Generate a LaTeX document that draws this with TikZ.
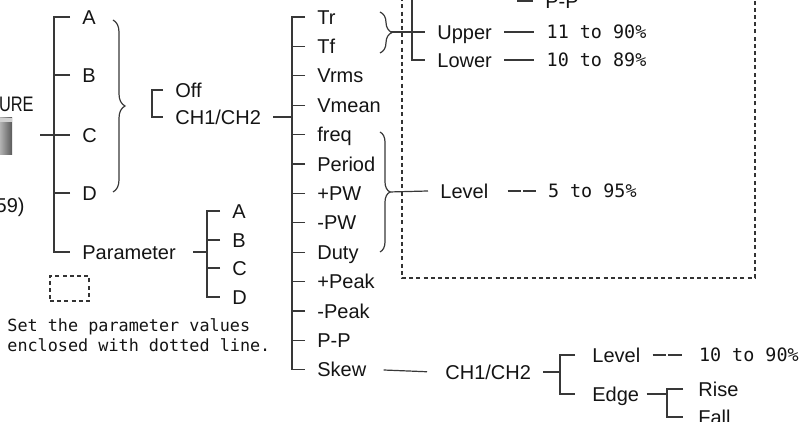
\documentclass[tikz,border=0pt]{standalone}
\usepackage{fontspec}
\usepackage{graphicx}
\setmainfont{Liberation Sans}
\setmonofont{DejaVu Sans Mono}
\usetikzlibrary{positioning, decorations.pathreplacing}

\begin{document}
\begin{tikzpicture}[x=0.5pt, y=-0.5pt,
  item/.style={anchor=west, inner xsep=6pt, inner ysep=1pt, text height=7.2pt, text depth=0pt, font=\fontsize{10}{12}\selectfont, text=black!92},
  val/.style={anchor=west, inner xsep=6pt, inner ysep=1pt, text height=6.8pt, text depth=0pt, font=\ttfamily\fontsize{9.2}{11}\selectfont, text=black!92},
  note/.style={anchor=west, align=left, inner sep=0pt, font=\ttfamily\fontsize{8.4}{10}\selectfont, text=black!92},
  wire/.style={draw=black!78, line width=0.6pt},
  gapline/.style={wire, dash pattern=on 6.8pt off 1pt},
  frame/.style={draw=black!80, line width=0.6pt, dash pattern=on 2pt off 1.6pt},
  brc/.style={draw=black!78, line width=0.6pt, decorate, decoration={brace, amplitude=#1}},
  node distance=15pt]
  \useasboundingbox (0,0) rectangle (805,422);
  \clip (0,0) rectangle (805,422);

  % key picture and title on the left
  \shade[left color=black!30, right color=black!65] (0,118) rectangle (12,155);
  \fill[black!18] (0,118) rectangle (12,122);
  \node[item, anchor=east, inner xsep=0pt, font=\fontsize{10.5}{13}\selectfont] (title) at (34,104) {\scalebox{0.78}[1]{URE}};
  \node[item, anchor=east, inner xsep=0pt] (page) at (25,205) {59)};

  % first column
  \node[item] (a) at (70,17) {A};
  \node[item] (b) at (70,75) {B};
  \node[item] (c) at (70,135) {C};
  \node[item] (d) at (70,193) {D};
  \node[item] (param) at (70,252) {Parameter};
  \coordinate (keyout) at (40,0);
  \coordinate (abus) at (54,0);
  \draw[wire] (a.west) -- (abus |- a.west) -- (abus |- param.west) -- (param.west);
  \draw[wire] (b.west) -- (abus |- b.west);
  \draw[wire] (keyout |- c.west) -- (c.west);
  \draw[wire] (d.west) -- (abus |- d.west);
  \coordinate (br1t) at (113,20);
  \coordinate (br1b) at (113,192);
  \draw[brc=6pt] (br1t) -- (br1b);

  % parameter sub list
  \node[item] (pa) at (220,211) {A};
  \node[item] (pb) at (220,240) {B};
  \node[item] (pc) at (220,268) {C};
  \node[item] (pd) at (220,297) {D};
  \coordinate (pbus) at (207,0);
  \draw[wire, shorten <=2.5pt] (param.east) -- (pbus |- param.east);
  \draw[wire] (pa.west) -- (pbus |- pa.west) -- (pbus |- pd.west) -- (pd.west);
  \draw[wire] (pb.west) -- (pbus |- pb.west);
  \draw[wire] (pc.west) -- (pbus |- pc.west);
  \node[frame, minimum width=19.5pt, minimum height=12.5pt, inner sep=0pt] (legend) at (69.5,288.5) {};
  \node[note] (hint) at (7,335) {Set the parameter values\\enclosed with dotted line.};

  % Off / CH1/CH2
  \node[item] (off) at (163,90) {Off};
  \node[item] (chsel) at (163,117) {CH1/CH2};
  \coordinate (obus) at (152,0);
  \draw[wire] (off.west) -- (obus |- off.west) -- (obus |- chsel.west) -- (chsel.west);

  % measurement items
  \node[item] (tr) at (305,17) {Tr};
  \node[item] (tf) at (305,46.4) {Tf};
  \node[item] (vrms) at (305,75.8) {Vrms};
  \node[item] (vmean) at (305,105.2) {Vmean};
  \node[item] (freq) at (305,134.6) {freq};
  \node[item] (period) at (305,164) {Period};
  \node[item] (ppw) at (305,193.4) {+PW};
  \node[item] (mpw) at (305,222.8) {-PW};
  \node[item] (duty) at (305,252.2) {Duty};
  \node[item] (ppeak) at (305,281.6) {+Peak};
  \node[item] (mpeak) at (305,311) {-Peak};
  \node[item] (pp) at (305,340.4) {P-P};
  \node[item] (skew) at (305,369.8) {Skew};
  \coordinate (mbus) at (292,0);
  \draw[wire] (chsel.east) -- (mbus |- chsel.east);
  \draw[wire] (tr.west) -- (mbus |- tr.west) -- (mbus |- skew.west) -- (skew.west);
  \draw[wire] (tf.west) -- (mbus |- tf.west);
  \draw[wire] (vrms.west) -- (mbus |- vrms.west);
  \draw[wire] (vmean.west) -- (mbus |- vmean.west);
  \draw[wire] (freq.west) -- (mbus |- freq.west);
  \draw[wire] (period.west) -- (mbus |- period.west);
  \draw[wire] (ppw.west) -- (mbus |- ppw.west);
  \draw[wire] (mpw.west) -- (mbus |- mpw.west);
  \draw[wire] (duty.west) -- (mbus |- duty.west);
  \draw[wire] (ppeak.west) -- (mbus |- ppeak.west);
  \draw[wire] (mpeak.west) -- (mbus |- mpeak.west);
  \draw[wire] (pp.west) -- (mbus |- pp.west);

  % dotted frame
  \coordinate (fnw) at (402,-10);
  \coordinate (fse) at (755,278);
  \draw[frame] (fnw) |- (fse) -- (fse |- fnw);

  % Tr/Tf thresholds
  \coordinate (br2t) at (380,12);
  \coordinate (br2b) at (380,53);
  \coordinate (br2tip) at (391,32);
  \draw[brc=6pt] (br2t) -- (br2b);
  \node[item] (pptop) at (533,1) {P-P};
  \node[item] (upper) at (425,32) {Upper};
  \node[item] (lower) at (425,60) {Lower};
  \node[val, right=of upper] (upval) {11 to 90\%};
  \node[val, right=of lower] (lowval) {10 to 89\%};
  \coordinate (ubus) at (412,-10);
  \coordinate (ppbus) at (518,-10);
  \draw[wire] (ppbus) |- (pptop.west);
  \draw[wire] (br2tip) -- (upper.west);
  \draw[wire] (ubus) |- (lower.west);
  \draw[wire] (upper.east) -- (upval.west);
  \draw[wire] (lower.east) -- (lowval.west);

  % freq..Duty level
  \coordinate (br3t) at (380,132);
  \coordinate (br3b) at (380,252);
  \coordinate (br3tip) at (389,192);
  \draw[brc=5pt] (br3t) -- (br3b);
  \node[item] (level) at (428,191) {Level};
  \node[val, right=17.5pt of level] (levval) {5 to 95\%};
  \draw[wire] (br3tip) -- (level.west);
  \draw[gapline, shorten <=3.5pt] (level.east) -- (levval.west);

  % skew
  \node[item] (skewch) at (433,372) {CH1/CH2};
  \node[item] (skewlv) at (580,355) {Level};
  \node[item] (edge) at (580,394) {Edge};
  \node[val, right=17pt of skewlv] (skewval) {10 to 90\%};
  \node[item] (rise) at (686,389) {Rise};
  \node[item] (fall) at (686,417) {Fall};
  \coordinate (cbus) at (560,0);
  \coordinate (ebus) at (667,0);
  \draw[wire, shorten <=2.5pt, shorten >=3pt] (skew.east) -- (skewch.west);
  \draw[wire] (skewch.east) -- (cbus |- skewch.east);
  \draw[wire, shorten <=2.5pt, shorten >=2.5pt] (skewlv.west) -- (cbus |- skewlv.west) -- (cbus |- edge.west) -- (edge.west);
  \draw[gapline, shorten >=1.5pt] (skewlv.east) -- (skewval.west);
  \draw[wire] ([xshift=-2.5pt]edge.east) -- (ebus |- edge.east);
  \draw[wire, shorten <=1.5pt, shorten >=1.5pt] (rise.west) -- (ebus |- rise.west) -- (ebus |- fall.west) -- (fall.west);
\end{tikzpicture}
\end{document}
